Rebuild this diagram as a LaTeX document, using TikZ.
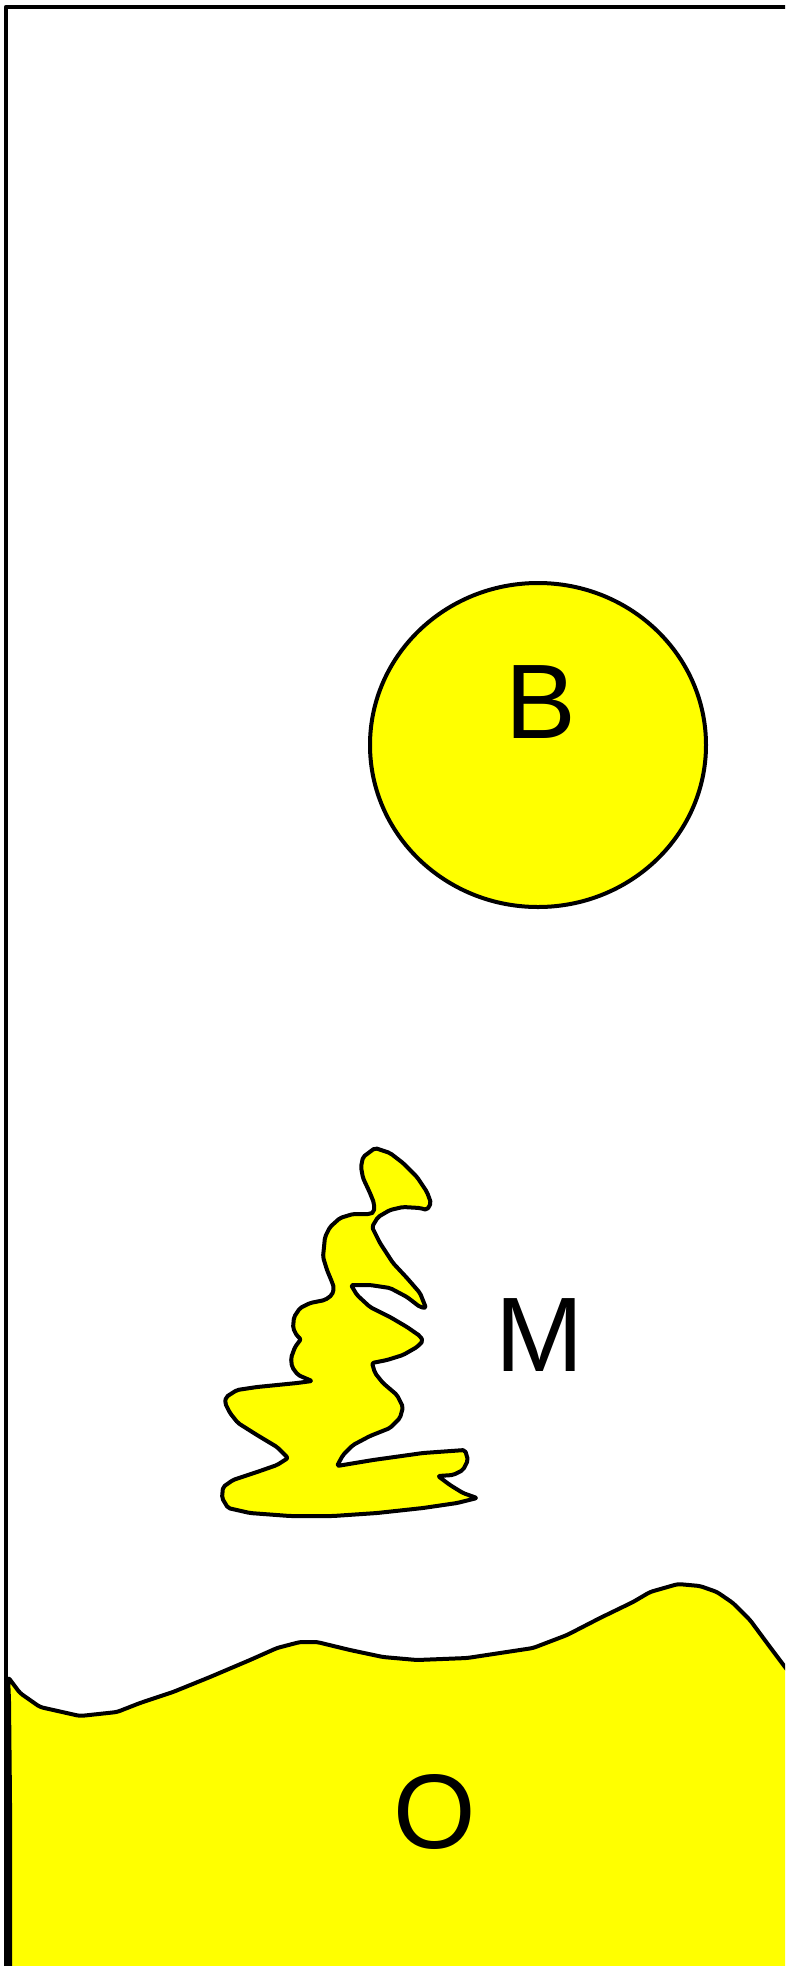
\documentclass[tikz,border=0pt]{standalone}
\usepackage{fontspec}
\setmainfont{Liberation Sans}
\definecolor{yel}{RGB}{255,255,0}
\begin{document}
\begin{tikzpicture}[x=1pt,y=-1pt,
  outline/.style={draw=black,line width=4pt,line join=round,line cap=round},
  blob/.style={outline,fill=yel},
  lbl/.style={inner sep=0pt,font=\fontsize{106}{110}\selectfont}]
\useasboundingbox (0,0) rectangle (785,1966);
\begin{scope}
\clip (0,0) rectangle (785,1966);
% frame
\draw[outline,line width=4.5pt,line cap=butt] (790,7) -- (6,7) -- (6,1975);
% bottom region O
\fill[yel] (8,1677) -- (20,1693) -- (40,1707) -- (80,1716) -- (117,1712) -- (140,1703) -- (173,1692) -- (210,1677) -- (250,1660) -- (277,1648) -- (300,1642) -- (317,1642) -- (350,1650) -- (383,1657) -- (417,1660) -- (467,1658) -- (500,1653) -- (533,1648) -- (567,1635) -- (600,1618) -- (633,1602) -- (650,1592) -- (678,1584) -- (700,1586) -- (717,1592) -- (733,1603) -- (750,1620) -- (767,1643) -- (785,1667) -- (795,1680) -- (795,1980) -- (10,1980) -- (10,1800) -- (9,1700) -- cycle;
\draw[outline,rounded corners=3pt] (10,1980) -- (10,1800) -- (9,1700) -- (8,1677) -- (20,1693) -- (40,1707) -- (80,1716) -- (117,1712) -- (140,1703) -- (173,1692) -- (210,1677) -- (250,1660) -- (277,1648) -- (300,1642) -- (317,1642) -- (350,1650) -- (383,1657) -- (417,1660) -- (467,1658) -- (500,1653) -- (533,1648) -- (567,1635) -- (600,1618) -- (633,1602) -- (650,1592) -- (678,1584) -- (700,1586) -- (717,1592) -- (733,1603) -- (750,1620) -- (767,1643) -- (785,1667) -- (795,1680);
\end{scope}
% circle B
\draw[blob] (538,745) ellipse [x radius=168, y radius=162];
% shape M
\draw[blob,rounded corners=2pt] (375,1148) -- (390,1153) -- (403,1163) -- (417,1177) -- (427,1192) -- (431,1203) -- (427,1210) -- (420,1208) -- (403,1207) -- (390,1210) -- (378,1217) -- (372,1227) -- (380,1243) -- (393,1263) -- (407,1278) -- (420,1293) -- (426,1308) -- (420,1307) -- (407,1297) -- (390,1288) -- (370,1285) -- (351,1285) -- (357,1295) -- (370,1307) -- (390,1317) -- (407,1327) -- (420,1336) -- (423,1341) -- (417,1347) -- (403,1355) -- (387,1360) -- (372,1363) -- (375,1373) -- (383,1383) -- (397,1395) -- (403,1407) -- (400,1418) -- (390,1428) -- (370,1436) -- (353,1445) -- (343,1455) -- (337,1466) -- (373,1460) -- (423,1453) -- (465,1450) -- (468,1460) -- (463,1470) -- (453,1475) -- (438,1476) -- (450,1485) -- (463,1493) -- (477,1498) -- (457,1503) -- (423,1508) -- (377,1513) -- (333,1516) -- (290,1516) -- (250,1513) -- (228,1508) -- (222,1498) -- (223,1487) -- (233,1480) -- (257,1472) -- (277,1465) -- (288,1458) -- (277,1447) -- (257,1435) -- (238,1423) -- (230,1413) -- (225,1403) -- (226,1397) -- (237,1390) -- (257,1387) -- (297,1383) -- (312,1381) -- (298,1375) -- (292,1367) -- (291,1358) -- (295,1347) -- (301,1339) -- (297,1336) -- (293,1328) -- (294,1317) -- (300,1308) -- (310,1303) -- (325,1300) -- (332,1295) -- (334,1288) -- (332,1282) -- (327,1270) -- (323,1257) -- (325,1237) -- (330,1227) -- (340,1218) -- (353,1214) -- (370,1214) -- (374,1212) -- (374,1203) -- (370,1193) -- (363,1178) -- (361,1167) -- (363,1157) -- cycle;
% labels
\node[lbl] (B) at (541,702) {B};
\node[lbl] (M) at (539.5,1335) {M};
\node[lbl] (O) at (435,1812) {O};
\end{tikzpicture}
\end{document}
